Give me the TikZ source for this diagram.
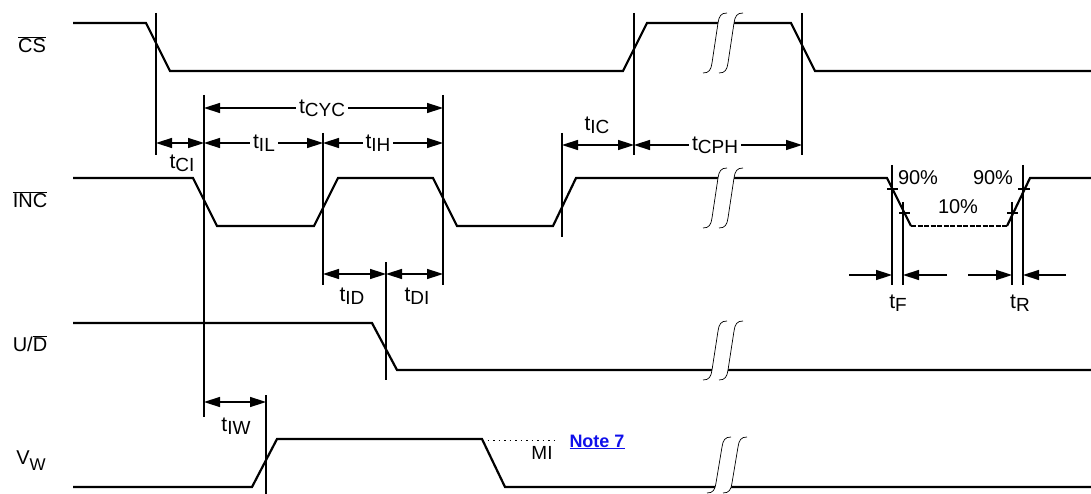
\documentclass[tikz,border=0pt]{standalone}
\usepackage{fontspec}
\setmainfont{Liberation Sans}
\usetikzlibrary{arrows.meta}
\definecolor{linkblue}{RGB}{16,16,235}
\newcommand\tsb[2]{#1\raisebox{-3pt}{\fontsize{19}{19}\selectfont #2}}
\newcommand\ovl[1]{$\overline{\hbox{#1}}$}
\newcommand\brkmark[3]{%
 \fill[white] (#1,#3) .. controls ({#1+6},#3) and ({#1+8},{#3-3}) .. ({#1+9},{#3-10}) -- ({#1+15},{#2+10}) .. controls ({#1+16},{#2+3}) and ({#1+18},#2) .. ({#1+24},#2) -- ({#1+40},#2) .. controls ({#1+34},#2) and ({#1+32},{#2+3}) .. ({#1+31},{#2+10}) -- ({#1+25},{#3-10}) .. controls ({#1+24},{#3-3}) and ({#1+22},#3) .. ({#1+16},#3) -- cycle;
 \draw[brk] (#1,#3) .. controls ({#1+6},#3) and ({#1+8},{#3-3}) .. ({#1+9},{#3-10}) -- ({#1+15},{#2+10}) .. controls ({#1+16},{#2+3}) and ({#1+18},#2) .. ({#1+24},#2);
 \draw[brk] ({#1+16},#3) .. controls ({#1+22},#3) and ({#1+24},{#3-3}) .. ({#1+25},{#3-10}) -- ({#1+31},{#2+10}) .. controls ({#1+32},{#2+3}) and ({#1+34},#2) .. ({#1+40},#2);}
\begin{document}
\begin{tikzpicture}[x=1pt,y=-1pt,font=\fontsize{20}{24}\selectfont,
  sig/.style={line width=2.2pt,line join=miter},
  vline/.style={line width=1.5pt},
  dim/.style={line width=1.5pt,{Triangle[length=16pt,width=10pt]}-{Triangle[length=16pt,width=10pt]}},
  rarr/.style={line width=1.5pt,-{Triangle[length=16pt,width=10pt]}},
  brk/.style={line width=0.7pt},
  lbl/.style={inner sep=1pt},
  tl/.style={inner sep=1pt,font=\fontsize{21}{24}\selectfont},
  onl/.style={inner sep=3pt,fill=white,font=\fontsize{21}{24}\selectfont}]
\useasboundingbox (0,0) rectangle (1091,494);
% signal names
\node[lbl] (ncs) at (32,45) {\ovl{CS}};
\node[lbl] (ninc) at (30,200) {\ovl{INC}};
\node[lbl] (nud) at (30,344) {U/\ovl{D}};
\node[lbl] (nvw) at (31,461) {V\raisebox{-6pt}{\fontsize{17}{17}\selectfont W}};
% waveforms
\draw[sig] (73,23) -- (146,23) -- (170,71) -- (623,71) -- (647,23) -- (791,23) -- (815,71) -- (1091,71);
\draw[sig] (73,178) -- (193,178) -- (217,226) -- (314,226) -- (338,178) -- (433,178) -- (457,226) -- (553,226) -- (576,178) -- (887,178) -- (911,226);
\draw[sig,dash pattern=on 5pt off 1.5pt] (911,226) -- (1007,226);
\draw[sig] (1007,226) -- (1030,178) -- (1091,178);
\draw[sig] (73,323) -- (372,323) -- (397,370) -- (1091,370);
\draw[sig] (73,487) -- (252,487) -- (277,439) -- (482,439) -- (505,487) -- (1091,487);
\draw[line width=0.8pt,dash pattern=on 1.5pt off 4pt] (482,440) -- (557,440);
% breaks
\brkmark{703}{13}{73}
\brkmark{703}{168}{228}
\brkmark{703}{321}{380}
\brkmark{707}{437}{493}
% vertical reference lines
\coordinate (a1) at (156,13);  \coordinate (a2) at (156,155);
\coordinate (b1) at (204,95);  \coordinate (b2) at (204,417);
\coordinate (c1) at (443,95);  \coordinate (c2) at (443,285);
\coordinate (d1) at (323,133); \coordinate (d2) at (323,285);
\coordinate (e1) at (386,262); \coordinate (e2) at (386,380);
\coordinate (f1) at (562,133); \coordinate (f2) at (562,237);
\coordinate (g1) at (634,13);  \coordinate (g2) at (634,155);
\coordinate (h1) at (802,13);  \coordinate (h2) at (802,155);
\coordinate (i1) at (266,395); \coordinate (i2) at (266,494);
\coordinate (j1) at (892,165); \coordinate (j2) at (892,285);
\coordinate (k1) at (903,202); \coordinate (k2) at (903,285);
\coordinate (l1) at (1012,202);\coordinate (l2) at (1012,285);
\coordinate (m1) at (1023,165);\coordinate (m2) at (1023,285);
\foreach \p in {a,b,c,d,e,f,g,h,i,j,k,l,m} \draw[vline] (\p1) -- (\p2);
% tick marks
\draw[vline] (887,189) -- (898,189);
\draw[vline] (899,213) -- (910,213);
\draw[vline] (1007,213) -- (1018,213);
\draw[vline] (1018,189) -- (1030,189);
% dimension arrows
\draw[dim] (204,108) -- (443,108);
\node[onl] (tcyc) at (322,108) {\tsb{t}{CYC}};
\draw[dim] (156,143) -- (204,143);
\node[tl] (tci) at (182,163) {\tsb{t}{CI}};
\draw[dim] (204,143) -- (323,143);
\node[onl] (til) at (264,143) {\tsb{t}{IL}};
\draw[dim] (323,143) -- (443,143);
\node[onl] (tih) at (378,143) {\tsb{t}{IH}};
\draw[dim] (562,145) -- (634,145);
\node[tl] (tic) at (597,125) {\tsb{t}{IC}};
\draw[dim] (634,145) -- (802,145);
\node[onl] (tcph) at (715,145) {\tsb{t}{CPH}};
\draw[dim] (323,274) -- (386,274);
\node[tl] (tid) at (352,296) {\tsb{t}{ID}};
\draw[dim] (386,274) -- (443,274);
\node[tl] (tdi) at (417,296) {\tsb{t}{DI}};
\draw[dim] (204,402) -- (266,402);
\node[tl] (tiw) at (236,426) {\tsb{t}{IW}};
\coordinate (fa) at (849,275); \coordinate (fb) at (947,275);
\coordinate (ra) at (968,275); \coordinate (rb) at (1066,275);
\draw[rarr] (fa) -- (892,275);
\draw[rarr] (fb) -- (903,275);
\draw[rarr] (ra) -- (1012,275);
\draw[rarr] (rb) -- (1023,275);
\node[tl] (tf) at (898,303) {\tsb{t}{F}};
\node[tl] (tr) at (1020,303) {\tsb{t}{R}};
% percent labels
\node[lbl] (p90a) at (918,178) {90\%};
\node[lbl] (p90b) at (993,178) {90\%};
\node[lbl] (p10) at (958,207) {10\%};
% MI and note
\node[lbl,font=\fontsize{19}{22}\selectfont] (mi) at (542,453) {MI};
\node[lbl,font=\fontsize{18}{22}\selectfont\bfseries,text=linkblue] (note) at (597,442) {\underline{Note 7}};
\end{tikzpicture}
\end{document}
